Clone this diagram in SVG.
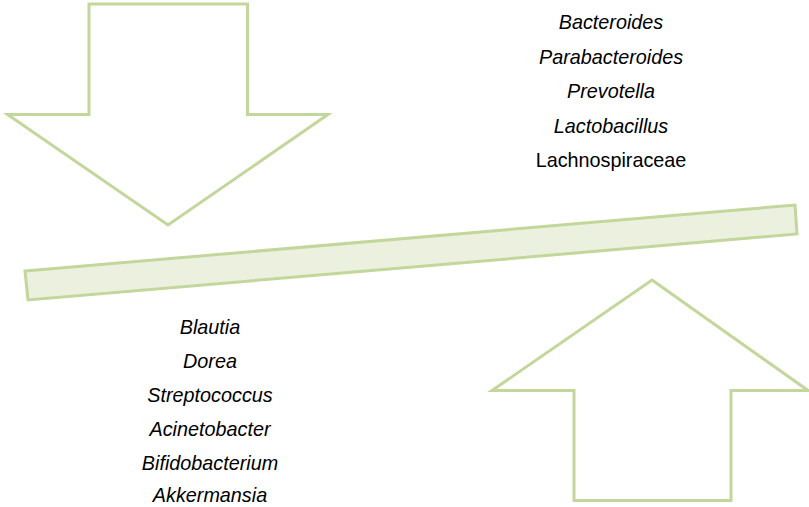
<svg xmlns="http://www.w3.org/2000/svg" width="809" height="507" viewBox="0 0 809 507">
<style>
.shape{fill:#ffffff;stroke:#C3D69B;stroke-width:3;stroke-linejoin:miter}
.bar{fill:#EBF1DE;stroke:#C3D69B;stroke-width:3}
text{font-family:"Liberation Sans",Arial,sans-serif;font-size:19.8px;fill:#000;text-anchor:middle}
.i{font-style:italic}
</style>
<rect width="809" height="507" fill="#ffffff"/>
<g id="down-arrow"><polygon class="shape" points="89,4 247.5,4 247.5,114.5 328,114.5 168,225 7.5,114.5 89,114.5"/></g>
<g id="up-arrow"><polygon class="shape" points="652,280 808,390.5 731,390.5 731,500.5 574,500.5 574,390.5 492,390.5"/></g>
<g id="bar"><polygon class="bar" points="25,271 795,205 797,234 28,300"/></g>
<g id="top-list">
<text class="i" x="611" y="29">Bacteroides</text>
<text class="i" x="611" y="64">Parabacteroides</text>
<text class="i" x="611" y="98">Prevotella</text>
<text class="i" x="611" y="133">Lactobacillus</text>
<text x="611" y="167">Lachnospiraceae</text>
</g>
<g id="bottom-list">
<text class="i" x="210" y="334">Blautia</text>
<text class="i" x="210" y="368">Dorea</text>
<text class="i" x="210" y="402">Streptococcus</text>
<text class="i" x="210" y="436">Acinetobacter</text>
<text class="i" x="210" y="470">Bifidobacterium</text>
<text class="i" x="210" y="502">Akkermansia</text>
</g>
<g id="connectors"></g>
</svg>
